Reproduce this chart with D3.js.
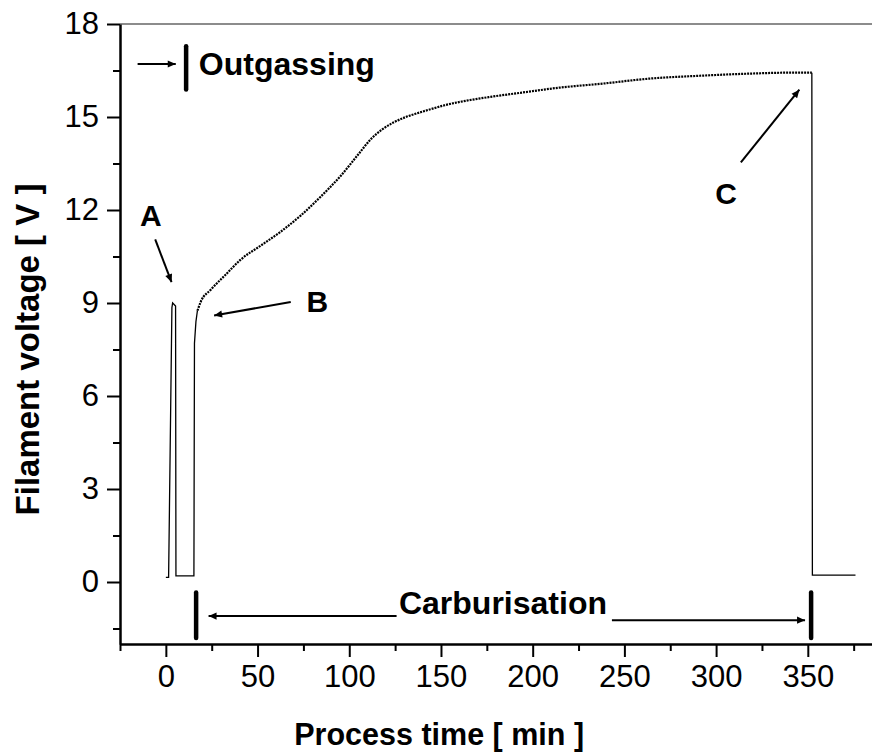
<!DOCTYPE html>
<meta charset="utf-8">
<script src="https://d3js.org/d3.v7.min.js"></script>
<style>
  body { margin: 0; background: #fff; }
  text { font-family: "Liberation Sans", Arial, sans-serif; }
</style>
<div id="my_dataviz"></div>
<script>
// filament voltage trace (time in min, voltage in V)
// pulses before carburisation and the drop at the end
var pulseTime = [0, 1.5, 3.3, 3.7, 5.3, 5.5, 10, 15.3, 15.6, 16.4, 17.2];
var pulseVolt = [0.15, 0.15, 8.85, 9.0, 8.9, 0.2, 0.2, 0.2, 7.7, 8.4, 8.75];
// main carburisation curve
var time = [17.2, 19.1, 24.5, 32.7, 40.8, 51.7, 62.6, 73.5, 84.4, 95.3,
  105, 112, 118, 124, 130, 137, 144.3, 152, 160.6, 177, 193.3, 215, 237,
  264, 291, 318.6, 340, 352.2];
var voltage = [8.75, 9.05, 9.43, 9.92, 10.4, 10.85, 11.3, 11.82, 12.43, 13.1,
  13.8, 14.3, 14.6, 14.82, 14.98, 15.12, 15.25, 15.38, 15.49, 15.65, 15.78,
  15.95, 16.07, 16.24, 16.33, 16.4, 16.43, 16.43];
var endTime = [352.2, 352.5, 360, 376];
var endVolt = [16.43, 0.22, 0.22, 0.22];

var xTicks = [0, 50, 100, 150, 200, 250, 300, 350];
var yTicks = [0, 3, 6, 9, 12, 15, 18];

// set the dimensions and margins of the graph
var margin = {top: 24, right: 0, bottom: 110, left: 120},
    width = 872 - margin.left - margin.right,
    height = 754 - margin.top - margin.bottom;

var svg = d3.select("#my_dataviz")
  .append("svg")
    .attr("width", width + margin.left + margin.right)
    .attr("height", height + margin.top + margin.bottom)
  .append("g")
    .attr("transform", "translate(" + margin.left + "," + margin.top + ")");

var x = d3.scaleLinear().domain([-25, 385]).range([0, width]);
var y = d3.scaleLinear().domain([-2, 18]).range([height, 0]);

// top frame line
svg.append("line")
  .attr("x1", 0).attr("x2", width).attr("y1", 0).attr("y2", 0)
  .style("stroke", "#666").style("stroke-width", 1.5);

// minor ticks
svg.append("g")
  .attr("transform", "translate(0," + height + ")")
  .call(d3.axisBottom(x).tickValues(d3.range(-25, 385, 50)).tickSize(7).tickFormat(""))
  .call(function (g) { g.select(".domain").remove(); })
  .selectAll("line").style("stroke-width", 2);
svg.append("g")
  .call(d3.axisLeft(y).tickValues(d3.range(-1.5, 18, 3)).tickSize(7).tickFormat(""))
  .call(function (g) { g.select(".domain").remove(); })
  .selectAll("line").style("stroke-width", 2);

// X axis
var gx = svg.append("g")
  .attr("transform", "translate(0," + height + ")")
  .call(d3.axisBottom(x).tickValues(xTicks).tickSize(13).tickPadding(8).tickSizeOuter(0));
gx.selectAll("text").style("font-size", "31px").style("fill", "#000");

// Y axis
var gy = svg.append("g")
  .call(d3.axisLeft(y).tickValues(yTicks).tickSize(13).tickPadding(8).tickSizeOuter(0));
gy.selectAll("text").style("font-size", "31px").style("fill", "#000");

svg.selectAll(".domain").style("stroke-width", 2.5);
svg.selectAll(".tick line").style("stroke-width", 2);

// axis titles
svg.append("text")
  .attr("text-anchor", "middle")
  .attr("x", x(149))
  .attr("y", height + 101)
  .style("font-size", "30.5px").style("font-weight", "bold")
  .text("Process time [ min ]");

svg.append("text")
  .attr("text-anchor", "middle")
  .attr("transform", "rotate(-90)")
  .attr("x", -y(7.5))
  .attr("y", -margin.left + 38.5)
  .style("font-size", "33px").style("font-weight", "bold")
  .text("Filament voltage [ V ]");

// data lines
var line = d3.line()
  .x(function (d) { return x(d[0]); })
  .y(function (d) { return y(d[1]); });
function zip(a, b) { return a.map(function (t, i) { return [t, b[i]]; }); }

svg.append("path")
  .datum(zip(pulseTime, pulseVolt))
  .attr("fill", "none").attr("stroke", "#000").attr("stroke-width", 1.3)
  .attr("d", line);
svg.append("path")
  .datum(zip(endTime, endVolt))
  .attr("fill", "none").attr("stroke", "#000").attr("stroke-width", 1.3)
  .attr("d", line);
svg.append("path")
  .datum(zip(time, voltage))
  .attr("fill", "none").attr("stroke", "#000").attr("stroke-width", 2.2)
  .attr("stroke-dasharray", "2,1")
  .attr("d", line.curve(d3.curveMonotoneX));

// arrow heads
svg.append("defs").append("marker")
  .attr("id", "head")
  .attr("viewBox", "0 0 10 10")
  .attr("refX", 10).attr("refY", 5)
  .attr("markerWidth", 12).attr("markerHeight", 8)
  .attr("markerUnits", "userSpaceOnUse")
  .attr("orient", "auto")
  .append("path").attr("d", "M0,0.5 L10,5 L0,9.5 Z").attr("fill", "#000");

function arrow(t1, v1, t2, v2) {
  svg.append("line")
    .attr("x1", x(t1)).attr("y1", y(v1))
    .attr("x2", x(t2)).attr("y2", y(v2))
    .style("stroke", "#000").style("stroke-width", 2)
    .attr("marker-end", "url(#head)");
}
function bar(t, v1, v2) {
  svg.append("line")
    .attr("x1", x(t)).attr("y1", y(v1))
    .attr("x2", x(t)).attr("y2", y(v2))
    .style("stroke", "#000").style("stroke-width", 4.5)
    .style("stroke-linecap", "round");
}
function label(t, v, s, size, anchor) {
  svg.append("text")
    .attr("x", x(t)).attr("y", y(v))
    .attr("text-anchor", anchor || "middle")
    .style("font-size", size + "px").style("font-weight", "bold")
    .text(s);
}

// Outgassing
arrow(-15.4, 16.71, 5.4, 16.71);
bar(11.05, 17.28, 15.89);
label(18, 16.37, "Outgassing", 32, "start");

// A, B, C
label(-8.2, 11.48, "A", 30);
arrow(-5.8, 11.05, 3.1, 9.67);
label(82.6, 8.72, "B", 30);
arrow(68.1, 9.03, 26.3, 8.6);
label(305.5, 12.2, "C", 30);
arrow(313.5, 13.54, 345.4, 15.88);

// Carburisation
bar(16.5, -0.34, -1.81);
bar(351.8, -0.34, -1.81);
arrow(125.8, -1.1, 23.3, -1.1);
arrow(243.2, -1.23, 348.5, -1.23);
label(183.8, -1.04, "Carburisation", 32);
</script>
